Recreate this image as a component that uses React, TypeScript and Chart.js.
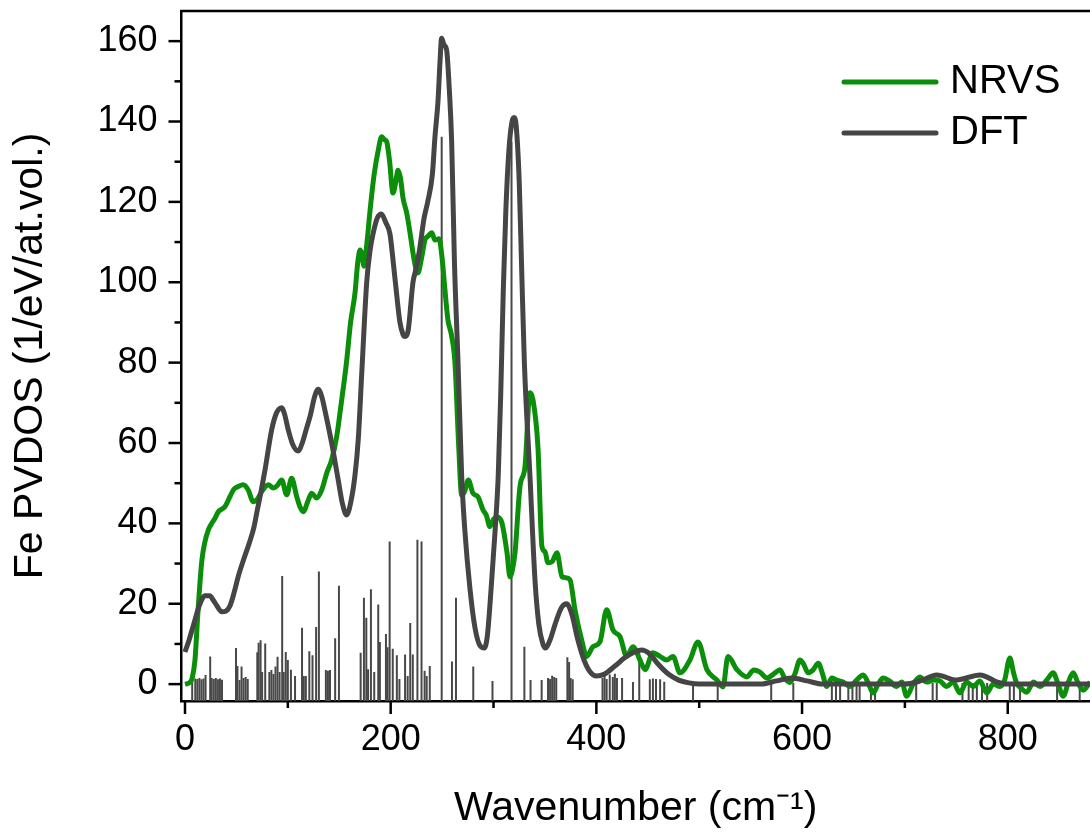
import React, { useEffect, useRef } from 'react';
import { Chart, registerables } from 'chart.js';

Chart.register(...registerables);

// ---------- data ----------
const nrvsWavenumber = [
  0, 4, 7, 9.7, 12.6, 14.5, 16.5, 19, 22.7, 26, 29.2, 32.4, 35.5, 38.9, 43.8, 47.5, 51.8, 56.7, 61.5, 66.4,
  69.7, 74.6, 81, 85.9, 90, 94, 98.9, 103.7, 108.6, 112, 115, 119.9, 123.2, 128, 132.9, 137.8, 142.6, 147.5,
  152, 157, 161, 165.3, 168, 170.2, 172, 174, 177, 180, 184, 188, 191.2, 194, 196.1, 199, 202.2, 205, 207.1,
  209.5, 212, 215.6, 219, 221.7, 224, 226.5, 230, 233.3, 236.5, 239.9, 243.1, 247, 250, 252.8, 255.7, 259,
  262.5, 266, 269, 272, 275.5, 280, 284.9, 289.7, 293, 296.5, 300, 303.4, 308.2, 313.1, 316, 318, 320.9,
  325.7, 330.6, 335.4, 338.4, 343.2, 347.1, 350, 352.9, 357, 361.7, 366.6, 370, 374.3, 379.2, 385.7, 390.6,
  396.7, 403.5, 410, 416.1, 423, 429.5, 435.6, 442.4, 447.3, 455, 461.8, 468.6, 474.5, 481.3, 491, 498.8,
  507.5, 517.3, 523.1, 528, 536.7, 546.4, 553, 559.1, 565.9, 573.7, 578.5, 583, 588.2, 593, 598, 601.5, 606,
  610.5, 615.8, 620, 624, 629, 633.6, 640, 646.6, 653, 659.5, 664, 669.2, 674, 679, 685, 692, 697, 701.7,
  708, 714.6, 721, 727.6, 734, 740.6, 747, 753.5, 760, 766.5, 773, 779.5, 786, 792.4, 797, 802.1, 805.5,
  808.6, 813, 818.4, 825, 831.3, 838, 844.2, 849, 854, 859, 863.7, 868, 873.4, 880,
];
const nrvsPvdos = [
  0, 0.3, 1.5, 6, 18, 25, 31, 35, 38.4, 40, 41.3, 42.9, 43.5, 44.2, 46.7, 48.5, 49.2, 49.6, 48.3, 45.4,
  45.8, 47.9, 49.6, 48.8, 49.5, 50.8, 47.1, 51.2, 46.7, 44, 42.9, 45.8, 47.5, 46.3, 48.3, 52.5, 55.8, 61.6,
  70, 80, 90, 97.3, 105, 108, 107, 104, 110, 118, 127, 133, 136.2, 135.5, 135, 130, 122.2, 125, 127.9,
  126, 121, 117.2, 112, 107.3, 104, 102.3, 106, 110.5, 111.5, 112.3, 110.5, 110.8, 106, 98, 90.6, 87,
  80, 60, 47, 48, 50.8, 47.5, 46.6, 43.4, 42, 39.2, 41, 41.6, 40.1, 32.7, 26.7, 28, 32.7,
  49.1, 54.1, 72.5, 70.7, 59, 34.2, 33, 30.2, 30.5, 32.7, 26.7, 26.5, 26, 18.5, 11, 6.9,
  9.3, 10.5, 18.5, 13.5, 11.8, 6.9, 9.3, 6, 3.6, 7.8, 6.9, 6, 6.9, 2.8, 6, 10.5,
  3.6, 1, -0.7, 6.9, 3.6, 1.8, 3.5, 3, 1.5, 2.8, 3.6, 1.5, 0.4, 2.5, 6, 5, 2.8,
  3.5, 5.2, 2.5, -0.6, 1.5, 1, 0.5, -0.6, 1, 2.3, 0.5, -2.2, 0, 1.5, 0.8, -0.6, 0.5, -3,
  0, 1.8, 0.5, 1, 0.8, -0.6, 0.5, -2.2, 0.5, -0.6, 0.8, -2.2, 0, -0.6, 1, 6.5, 3,
  0.3, -1, -2, 0.5, -0.6, 1, 2.8, 0, -3, 0.5, 2.8, 0.5, -1.5, 0.5,
];

const dftWavenumber = [
  0, 4, 8, 14.6, 19.4, 24, 27.2, 31, 35.7, 40, 43.8, 48, 52, 57, 63, 67, 69.7, 74, 77.8, 84.3, 89, 94, 97,
  100.4, 105, 110, 114, 118, 122, 126, 129.5, 133, 137, 142.6, 149, 153, 157.2, 161, 165.3, 168.5, 172,
  176.7, 180, 182.8, 187, 191, 195, 199.3, 202.5, 205.8, 209, 212, 214, 217, 221.7, 224.3, 228, 232.5, 236,
  240.6, 243, 246, 248, 249.5, 252, 254.4, 257, 259.3, 262, 265.5, 269, 272.2, 277, 282, 287, 291, 294, 298,
  301.5, 304.6, 307, 309.5, 312, 315, 318, 320, 322, 325, 327.4, 330, 335.4, 340.3, 344, 348, 350.5, 355,
  360, 366, 371, 376, 382, 388, 394, 400, 408, 418, 430, 444, 452, 460, 470, 480, 490, 500, 560, 575, 590,
  605, 620, 700, 715, 731, 750, 773, 790, 800, 880,
];
const dftPvdos = [
  8, 11, 14.5, 20, 22, 22, 21, 19.5, 18, 18.2, 19.5, 23, 27, 31, 35.5, 39, 42.5, 48, 53.3, 63.3, 67.5, 68.8, 67,
  63.3, 59.5, 58, 60, 63.5, 67, 71.5, 73.4, 71.5, 67, 60, 50.8, 45, 42.1, 45, 52, 61, 78,
  100, 108, 112, 116, 117, 115, 112, 105, 97, 90, 87, 86.5, 88, 100, 103, 108, 116, 120,
  127, 136, 145, 155, 160.7, 159, 157.8, 148, 135, 105, 80, 52, 38, 24, 14, 9.5, 9, 12, 25,
  38, 52, 72, 98, 118, 133, 140, 141, 139, 125, 103, 80, 52, 26, 15, 10, 9, 11,
  15, 19, 20, 17.5, 11, 6, 3, 2, 2.5, 4.5, 7, 8.5, 7.5, 5, 2.5, 1, 0.3, 0, 0, 0.8, 1.5,
  0.8, 0, 0, 0.8, 2.3, 1, 2.3, 0.5, 0, 0,
];

const stickWavenumber = [
  7, 10, 12, 14, 16, 18, 20, 24.5, 26, 28, 30, 32, 34, 36, 49.6, 51, 53, 55, 57, 59, 61, 70.3, 71.6, 73.5,
  75, 78, 82, 84, 86, 88, 90, 92, 94.5, 96, 98, 100, 103, 107, 113.8, 115.5, 117.5, 120.9, 124, 127.5, 130.2,
  137, 139, 141, 146, 149.7, 170.8, 174, 176.3, 178, 180.8, 184, 187.9, 189.5, 195.4, 197, 199, 202, 206,
  208.5, 214, 216.5, 219, 221.5, 226, 230, 233, 235, 238, 249.6, 259.6, 263.5, 280.3, 299, 317.5, 330, 336,
  346.8, 353, 355, 357, 359, 361, 371.8, 373.5, 375, 377, 406, 408, 410, 413, 416, 418, 420, 425, 435.6,
  441.7, 452, 455, 458, 462, 466, 494, 518, 570, 591.5, 629, 633, 637, 645, 649, 653, 656, 667, 671, 711,
  727, 731, 756, 762, 766, 770, 775, 780, 802, 806, 812, 848, 870,
];
const stickIntensity = [
  1.5, 1.4, 1.3, 1.5, 1.2, 1.4, 2.3, 6.9, 1.5, 1.3, 1.5, 1.2, 1.4, 1.1, 9, 4.5, 1, 4.4, 1.5, 1.8, 1.3, 7.9, 10.3, 10.9,
  3, 10.1, 3, 3.5, 2.5, 4.4, 6.8, 3, 26.9, 3, 8, 6, 3.6, 2, 14, 2, 2, 8.2, 7.2, 14.2, 28,
  3.5, 3.3, 3.5, 11.4, 24.5, 7.8, 21.5, 16.5, 3.7, 23.6, 3, 19.8, 10.5, 12.5, 9.2, 35.5, 8.8, 7.2,
  1.3, 7.4, 2, 15.2, 7.4, 35.9, 35.5, 3.3, 2, 4.5, 136.2, 5.6, 21.5, 4.4, 0.8, 135, 9.3, 1,
  1, 1.5, 1.3, 2.1, 1.8, 1.5, 6.7, 5.5, 1.5, 1.2, 1.5, 2, 1.3, 2.4, 1.8, 2.6, 1.5, 1.5, 0.5,
  8.5, 1.2, 1.4, 1.3, 1.2, 0.6, 0.3, 0.3, 0.3, 0.3, 0.3, 0.3, 0.3, 0.3, 0.3, 0.3, 0.3, 0.3, 0.3, 0.3,
  0.3, 0.3, 0.3, 0.3, 0.3, 0.3, 0.3, 0.3, 0.3, 0.3, 0.3, 0.3, 0.3,
];

const xMajorTicks = [0, 200, 400, 600, 800];
const xMinorTicks = [100, 300, 500, 700];
const yMajorTicks = [0, 20, 40, 60, 80, 100, 120, 140, 160];
const yMinorTicks = [10, 30, 50, 70, 90, 110, 130, 150];

const seriesLabels = ['NRVS', 'DFT'];
const xTitle = 'Wavenumber (cm\u207B\u00B9)';
const yTitle = 'Fe PVDOS (1/eV/at.vol.)';

// ---------- style ----------
const X_MIN = -3.4;
const X_MAX = 880;
const Y_MIN = -4.2;
const Y_MAX = 167.5;
const FONT = "'Liberation Sans', Arial, sans-serif";
const GREEN = '#0b8f0b';
const GREY = '#454545';
const STICK = '#484848';

const axisDecor = {
  id: 'axisDecor',
  afterDraw(chart: any) {
    const { ctx, chartArea: a, scales } = chart;
    const xs = scales.x;
    const ys = scales.y;
    ctx.save();
    ctx.strokeStyle = '#000';
    ctx.lineWidth = 2.5;
    ctx.lineCap = 'butt';
    ctx.beginPath();
    ctx.moveTo(a.left - 1.25, a.top);
    ctx.lineTo(a.right + 2, a.top);
    ctx.stroke();
    const tick = (vals: number[], len: number) => {
      vals.forEach((v) => {
        const px = xs.getPixelForValue(v);
        ctx.beginPath();
        ctx.moveTo(px, a.bottom);
        ctx.lineTo(px, a.bottom + len);
        ctx.stroke();
      });
    };
    const ytick = (vals: number[], len: number) => {
      vals.forEach((v) => {
        const py = ys.getPixelForValue(v);
        ctx.beginPath();
        ctx.moveTo(a.left, py);
        ctx.lineTo(a.left - len, py);
        ctx.stroke();
      });
    };
    tick(xMajorTicks, 13);
    tick(xMinorTicks, 7);
    ytick(yMajorTicks, 13);
    ytick(yMinorTicks, 7);

    // legend
    const ds = chart.data.datasets;
    const rows = [
      { y: 82, d: ds[0] },
      { y: 133, d: ds[1] },
    ];
    rows.forEach((r) => {
      ctx.strokeStyle = r.d.borderColor;
      ctx.lineWidth = 5;
      ctx.lineCap = 'round';
      ctx.beginPath();
      ctx.moveTo(844, r.y);
      ctx.lineTo(936, r.y);
      ctx.stroke();
      ctx.fillStyle = '#000';
      ctx.font = `40px ${FONT}`;
      ctx.textAlign = 'left';
      ctx.textBaseline = 'middle';
      ctx.fillText(r.d.label, 950, r.y);
    });
    ctx.restore();
  },
};

export default function App() {
  const ref = useRef<HTMLCanvasElement | null>(null);

  useEffect(() => {
    if (!ref.current) return;
    const chart = new Chart(ref.current, {
      type: 'line',
      data: {
        datasets: [
          {
            type: 'line',
            label: seriesLabels[0],
            data: nrvsWavenumber.map((x, i) => ({ x, y: nrvsPvdos[i] })),
            borderColor: GREEN,
            borderWidth: 5,
            pointRadius: 0,
            cubicInterpolationMode: 'monotone',
            fill: false,
            order: 1,
          },
          {
            type: 'line',
            label: seriesLabels[1],
            data: dftWavenumber.map((x, i) => ({ x, y: dftPvdos[i] })),
            borderColor: GREY,
            borderWidth: 5,
            pointRadius: 0,
            cubicInterpolationMode: 'monotone',
            fill: false,
            order: 0,
          },
          {
            type: 'bar',
            label: 'DFT modes',
            data: stickWavenumber.map((x, i) => ({ x, y: [Y_MIN, stickIntensity[i]] })),
            backgroundColor: STICK,
            borderWidth: 0,
            barThickness: 2,
            inflateAmount: 0,
            grouped: false,
            order: 2,
          } as any,
        ],
      },
      options: {
        responsive: false,
        animation: false,
        events: [],
        layout: { padding: { left: 0, right: 0, top: 11, bottom: 0 } },
        plugins: { legend: { display: false }, tooltip: { enabled: false } },
        scales: {
          x: {
            type: 'linear',
            min: X_MIN,
            max: X_MAX,
            offset: false,
            afterFit: (s: any) => {
              s.height = 135;
              s.paddingLeft = 0;
              s.paddingRight = 0;
            },
            afterBuildTicks: (s: any) => {
              s.ticks = xMajorTicks.map((v) => ({ value: v }));
            },
            grid: { display: false, drawTicks: false },
            border: { display: true, color: '#000', width: 2.5 },
            ticks: {
              font: { family: FONT, size: 36 },
              color: '#000',
              padding: 17,
              maxRotation: 0,
              autoSkip: false,
              callback: (v: any) => String(v),
            },
            title: {
              display: true,
              text: xTitle,
              font: { family: FONT, size: 41 },
              color: '#000',
              padding: { top: 0, bottom: 3 },
            },
          },
          y: {
            type: 'linear',
            min: Y_MIN,
            max: Y_MAX,
            afterFit: (s: any) => {
              s.width = 181.5;
              s.paddingTop = 0;
              s.paddingBottom = 0;
            },
            afterBuildTicks: (s: any) => {
              s.ticks = yMajorTicks.map((v) => ({ value: v }));
            },
            grid: { display: false, drawTicks: false },
            border: { display: true, color: '#000', width: 2.5 },
            ticks: {
              font: { family: FONT, size: 36 },
              color: '#000',
              padding: 24,
              autoSkip: false,
              callback: (v: any) => String(v),
            },
            title: {
              display: true,
              text: yTitle,
              font: { family: FONT, size: 41 },
              color: '#000',
              padding: { top: 6, bottom: 0 },
            },
          },
        },
      } as any,
      plugins: [axisDecor],
    });
    return () => chart.destroy();
  }, []);

  return (
    <div style={{ position: 'absolute', left: 0, top: 0, width: 1090, height: 836, background: '#fff' }}>
      <canvas ref={ref} width={1090} height={836} style={{ width: 1090, height: 836, display: 'block' }} />
    </div>
  );
}
